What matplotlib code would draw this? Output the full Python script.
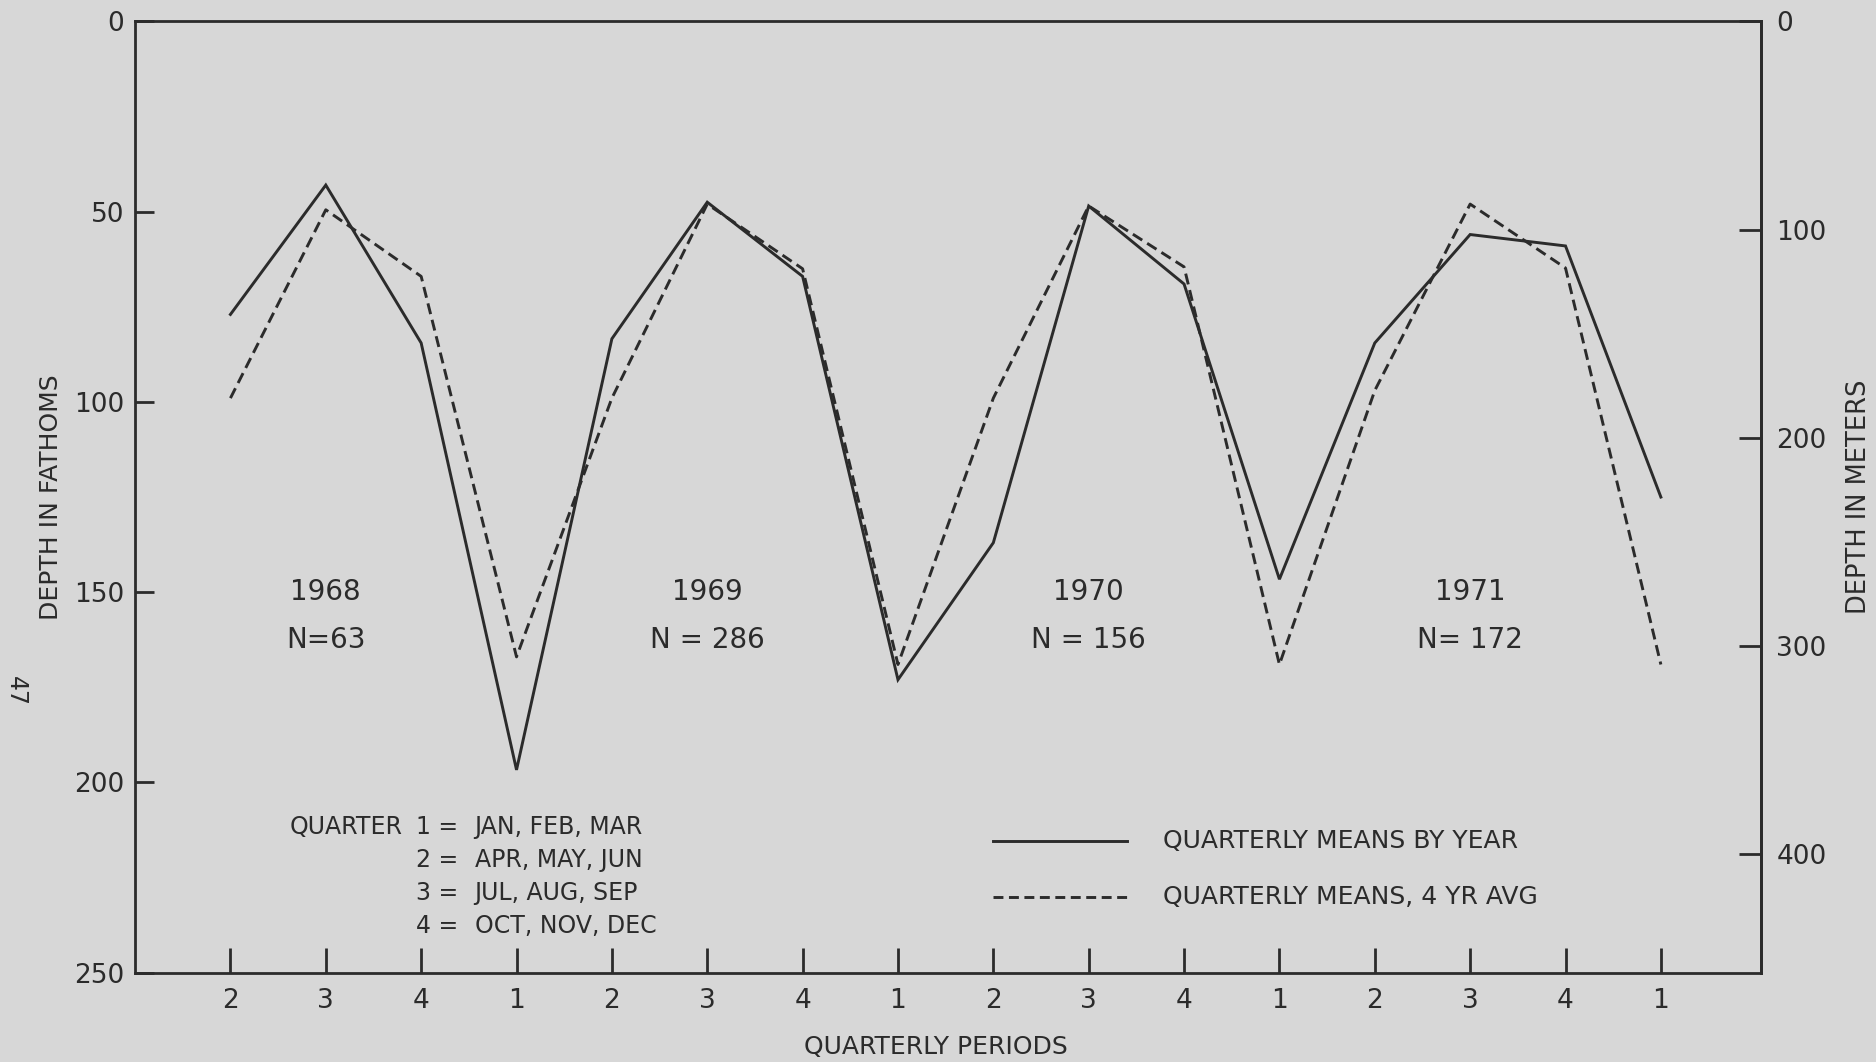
import matplotlib.pyplot as plt
from matplotlib.lines import Line2D

# quarterly periods, Q2 1968 .. Q1 1972
quarters = ['2', '3', '4', '1', '2', '3', '4', '1', '2', '3', '4', '1', '2', '3', '4', '1']
by_year = [77, 43, 84.5, 196.7, 83.4, 47.5, 67, 173, 137, 48.5, 69, 146.6, 84.5, 56, 59, 125]
four_yr_avg = [99, 49.5, 67, 167, 99, 48, 65, 169, 99, 48.5, 64.5, 169, 97, 48, 64.8, 169]
years = ['1968', '1969', '1970', '1971']
n_obs = ['N=63', 'N = 286', 'N = 156', 'N= 172']
year_pos = [2, 6, 10, 14]
quarter_nums = ['1 =', '2 =', '3 =', '4 =']
quarter_months = ['JAN, FEB, MAR', 'APR, MAY, JUN', 'JUL, AUG, SEP', 'OCT, NOV, DEC']

FATHOM_M = 1.8288
bg = '#d7d7d7'
ink = '#2b2b2b'

plt.rcParams['font.family'] = ['DejaVu Sans']
fig = plt.figure(figsize=(18.76, 10.62), dpi=100, facecolor=bg)
ax = fig.add_axes([0.072, 0.0841, 0.8667, 0.8957], facecolor=bg)

x = list(range(1, len(quarters) + 1))
ax.plot(x, by_year, color=ink, lw=2.1, solid_joinstyle='miter')
ax.plot(x, four_yr_avg, color=ink, lw=2.1, linestyle=(0, (3.8, 2)))

ax.set_xlim(0, 17.05)
ax.set_ylim(250, 0)
ax.set_xticks(x)
ax.set_xticklabels(quarters)
ax.set_yticks([0, 50, 100, 150, 200, 250])

for s in ax.spines.values():
    s.set_color(ink)
    s.set_linewidth(2)
ax.tick_params(axis='x', direction='in', length=18, width=2, color=ink,
               labelsize=19, labelcolor=ink, pad=11)
ax.tick_params(axis='y', direction='in', length=14, width=2, color=ink,
               labelsize=19, labelcolor=ink, pad=8, left=True, right=False)

sec = ax.secondary_yaxis('right', functions=(lambda f: f * FATHOM_M, lambda m: m / FATHOM_M))
sec.set_yticks([0, 100, 200, 300, 400])
sec.spines['right'].set_color(ink)
sec.spines['right'].set_linewidth(2)
sec.tick_params(axis='y', direction='in', length=16, width=2, color=ink,
                labelsize=19, labelcolor=ink, pad=11)
sec.set_ylabel('DEPTH IN METERS', fontsize=18.5, color=ink, labelpad=14)

ax.set_ylabel('DEPTH IN FATHOMS', fontsize=18, color=ink, labelpad=8)
ax.set_xlabel('QUARTERLY PERIODS', fontsize=18, color=ink)
ax.xaxis.set_label_coords(0.4926, -0.066)

for xp, yr, n in zip(year_pos, years, n_obs):
    ax.text(xp, 150, yr, ha='center', va='center', fontsize=20, color=ink)
    ax.text(xp, 162.5, n, ha='center', va='center', fontsize=20, color=ink)

# quarter key
ax.text(2.81, 211.6, 'QUARTER', ha='right', va='center', fontsize=17, color=ink)
for i, (num, months) in enumerate(zip(quarter_nums, quarter_months)):
    yy = 211.6 + i * 8.75
    ax.text(2.95, yy, num, ha='left', va='center', fontsize=17, color=ink)
    ax.text(3.56, yy, months, ha='left', va='center', fontsize=17, color=ink)

# line key
ax.add_line(Line2D([9.0, 10.4], [215.4, 215.4], color=ink, lw=2.1))
ax.add_line(Line2D([9.0, 10.4], [230.2, 230.2], color=ink, lw=2.1, linestyle=(0, (3.4, 1.9))))
ax.text(10.78, 215.4, 'QUARTERLY MEANS BY YEAR', ha='left', va='center',
        fontsize=18, color=ink)
ax.text(10.78, 230.2, 'QUARTERLY MEANS, 4 YR AVG', ha='left', va='center',
        fontsize=18, color=ink)

fig.text(0.0085, 0.349, '47', rotation=-90, ha='center', va='center', fontsize=17, color=ink)

fig.savefig('out.png', dpi=100, facecolor=bg)
